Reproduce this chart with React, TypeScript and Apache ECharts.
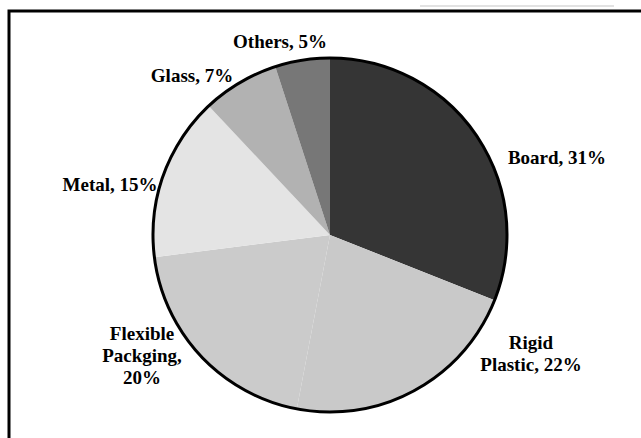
import React, { useEffect, useRef } from "react";
import * as echarts from "echarts";

const categories = ["Board", "Rigid Plastic", "Flexible Packging", "Metal", "Glass", "Others"];
const shares = [31, 22, 20, 15, 7, 5];
const labelTexts = ["Board, 31%", "Rigid\nPlastic, 22%", "Flexible\nPackging,\n20%", "Metal, 15%", "Glass, 7%", "Others, 5%"];
const sliceColors = ["#353535", "#c9c9c9", "#cbcbcb", "#e4e4e4", "#b2b2b2", "#777777"];
const labelAnchors = [
  [557, 157],
  [531, 353],
  [142, 355],
  [110, 184],
  [192, 75],
  [280, 41],
];

export default function App() {
  const ref = useRef<HTMLDivElement>(null);
  useEffect(() => {
    if (!ref.current) return;
    const chart = echarts.init(ref.current, null, { renderer: "svg" });
    const center = [330, 235];
    const radius = 177;
    chart.setOption({
      animation: false,
      backgroundColor: "#ffffff",
      graphic: [
        {
          type: "rect",
          shape: { x: 9, y: 11, width: 700, height: 500 },
          style: { fill: "none", stroke: "#000", lineWidth: 3 },
          silent: true,
        },
        {
          type: "line",
          shape: { x1: 420, y1: 6, x2: 614, y2: 6 },
          style: { stroke: "#e2e2e2", lineWidth: 2 },
          silent: true,
        },
      ],
      series: [
        {
          type: "pie",
          center,
          radius,
          startAngle: 90,
          clockwise: true,
          data: categories.map((name, i) => ({
            name,
            value: shares[i],
            itemStyle: { color: sliceColors[i] },
            label: { formatter: labelTexts[i] },
          })),
          itemStyle: { borderWidth: 0 },
          label: {
            show: true,
            position: "outside",
            fontFamily: "Liberation Serif",
            fontWeight: "bold",
            fontSize: 19,
            color: "#000",
            lineHeight: 22,
          },
          labelLine: { show: false, length: 4, length2: 0 },
          labelLayout: (params: any) => {
            const a = labelAnchors[params.dataIndex];
            return { x: a[0], y: a[1], align: "center", verticalAlign: "middle" };
          },
          emphasis: { disabled: true },
        },
        {
          type: "pie",
          center,
          radius,
          silent: true,
          data: [{ value: 1, itemStyle: { color: "transparent", borderColor: "#000", borderWidth: 3 } }],
          label: { show: false },
          labelLine: { show: false },
          emphasis: { disabled: true },
        },
      ],
    });
    return () => chart.dispose();
  }, []);
  return <div ref={ref} style={{ position: "fixed", left: 0, top: 0, width: 641, height: 438 }} />;
}
